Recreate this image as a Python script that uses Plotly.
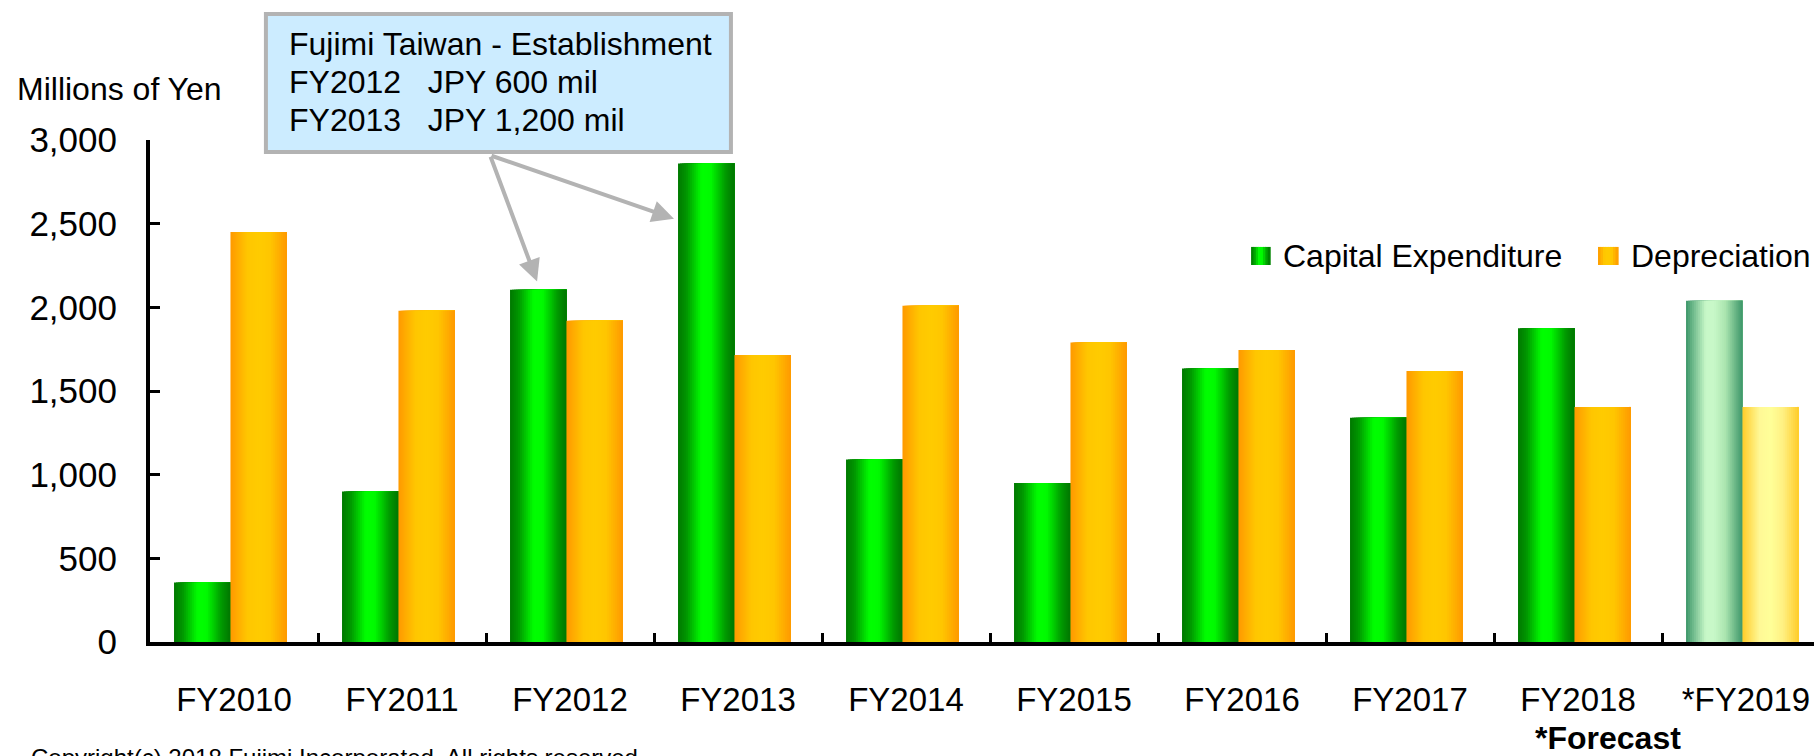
import plotly.graph_objects as go

# ---- data -------------------------------------------------------------
categories = ["FY2010", "FY2011", "FY2012", "FY2013", "FY2014",
              "FY2015", "FY2016", "FY2017", "FY2018", "*FY2019"]
capital_expenditure = [355, 900, 2105, 2860, 1090, 950, 1635, 1340, 1875, 2040]
depreciation = [2450, 1980, 1920, 1715, 2010, 1790, 1745, 1620, 1405, 1405]
is_forecast = [False] * 9 + [True]
y_ticks = [0, 500, 1000, 1500, 2000, 2500, 3000]

# ---- styling ----------------------------------------------------------
FONT = "Liberation Sans, Arial, sans-serif"
# horizontal colour ramps (fraction across bar -> rgb)
GREEN = [(0.0, (0, 120, 0)), (0.15, (0, 150, 0)), (0.42, (0, 255, 0)),
         (0.58, (0, 250, 0)), (0.85, (0, 150, 0)), (1.0, (0, 118, 0))]
ORANGE = [(0.0, (255, 153, 0)), (0.3, (255, 198, 0)), (0.5, (255, 204, 0)),
          (0.7, (255, 198, 0)), (1.0, (255, 153, 0))]
GREEN_FC = [(0.0, (60, 150, 105)), (0.35, (200, 248, 200)), (0.5, (200, 248, 200)),
            (0.7, (170, 228, 175)), (1.0, (60, 150, 105))]
YELLOW_FC = [(0.0, (255, 204, 40)), (0.3, (255, 248, 150)), (0.5, (255, 255, 153)),
             (0.72, (255, 240, 130)), (1.0, (255, 204, 40))]


def ramp(stops, t):
    for (t0, c0), (t1, c1) in zip(stops[:-1], stops[1:]):
        if t0 <= t <= t1:
            f = 0 if t1 == t0 else (t - t0) / (t1 - t0)
            rgb = [round(a + (b - a) * f) for a, b in zip(c0, c1)]
            return "rgb({},{},{})".format(*rgb)
    return "rgb({},{},{})".format(*stops[-1][1])


STRIPS = 28
BAR_W = 0.336
GROUP_START = -0.357

fig = go.Figure()

series = [
    ("Capital Expenditure", capital_expenditure, GREEN, GREEN_FC),
    ("Depreciation", depreciation, ORANGE, YELLOW_FC),
]
for s_idx, (name, values, stops, fc_stops) in enumerate(series):
    base = GROUP_START + s_idx * BAR_W
    step = BAR_W / STRIPS
    for i in range(STRIPS):
        t = (i + 0.5) / STRIPS
        c_norm = ramp(stops, t)
        c_fc = ramp(fc_stops, t)
        colors = [c_fc if f else c_norm for f in is_forecast]
        # each strip runs to the bar's right edge; later strips paint over
        fig.add_trace(go.Bar(
            x=categories, y=values, name=name,
            offset=base + i * step, width=BAR_W - i * step,
            marker=dict(color=colors, line=dict(width=0)),
            showlegend=False,
            hoverinfo="x+y+name" if i == 0 else "skip",
        ))

# ---- axes --------------------------------------------------------------
fig.update_xaxes(
    type="category", range=[-0.5, -0.5 + 1664 / 168],
    showline=True, linecolor="black", linewidth=4,
    ticks="inside", tickson="boundaries", ticklen=9, tickwidth=3, tickcolor="black",
    tickfont=dict(family=FONT, size=33, color="black"),
    ticklabelstandoff=25, showgrid=False, zeroline=False,
)
fig.update_yaxes(
    range=[0, 3000], tickvals=y_ticks, tickformat=",",
    showline=True, linecolor="black", linewidth=4,
    ticks="inside", ticklen=10, tickwidth=3, tickcolor="black",
    tickfont=dict(family=FONT, size=35, color="black"),
    ticklabelstandoff=22, showgrid=False, zeroline=False,
)

shapes = []
annotations = []

# ---- legend (gradient swatches + labels) ---------------------------------
def swatch(x0, x1, y0, y1, stops, n=8):
    w = (x1 - x0) / n
    for k in range(n):
        shapes.append(dict(type="rect", xref="paper", yref="paper",
                           x0=x0 + k * w, x1=x0 + (k + 1) * w + 0.0004, y0=y0, y1=y1,
                           fillcolor=ramp(stops, (k + 0.5) / n), line=dict(width=0),
                           layer="above"))


swatch(0.6617, 0.6731, 0.751, 0.787, GREEN)
swatch(0.8702, 0.8822, 0.751, 0.787, ORANGE)
annotations.append(dict(text="Capital Expenditure", xref="paper", yref="paper",
                        x=0.6797, y=0.769, xanchor="left", yanchor="middle",
                        showarrow=False, font=dict(family=FONT, size=32, color="black")))
annotations.append(dict(text="Depreciation", xref="paper", yref="paper",
                        x=0.8888, y=0.769, xanchor="left", yanchor="middle",
                        showarrow=False, font=dict(family=FONT, size=32, color="black")))

# ---- callout box ----------------------------------------------------------
shapes.append(dict(type="rect", xref="x", yref="paper",
                   x0=0.19, x1=2.958, y0=0.976, y1=1.251,
                   fillcolor="#CCECFF", line=dict(color="#B3B3B3", width=4),
                   layer="above"))
nb = "\u00a0"
callout_lines = [
    "Fujimi Taiwan - Establishment",
    "FY2012" + nb * 3 + "JPY 600 mil",
    "FY2013" + nb * 3 + "JPY 1,200 mil",
]
for line, yy in zip(callout_lines, [1.191, 1.1155, 1.040]):
    annotations.append(dict(text=line, xref="x", yref="paper", x=0.315, y=yy,
                            xanchor="left", yanchor="middle", showarrow=False,
                            font=dict(family=FONT, size=32, color="black")))

# arrows from the callout to the FY2012 and FY2013 capex bars
for tip_x, tip_y in [(1.804, 2155), (2.619, 2529)]:
    annotations.append(dict(x=tip_x, y=tip_y, ax=1.524, ay=2909,
                            xref="x", yref="y", axref="x", ayref="y",
                            text="", showarrow=True, arrowhead=2, arrowsize=1.1,
                            arrowwidth=4, arrowcolor="#B3B3B3"))

# ---- other text ------------------------------------------------------------
annotations.append(dict(text="Millions of Yen", xref="paper", yref="paper",
                        x=-0.0811, y=1.1016, xanchor="left", yanchor="middle",
                        showarrow=False, font=dict(family=FONT, size=32, color="black")))
annotations.append(dict(text="<b>*Forecast</b>", xref="paper", yref="paper",
                        x=0.876, y=-0.192, xanchor="center", yanchor="middle",
                        showarrow=False, font=dict(family=FONT, size=32, color="black")))
annotations.append(dict(text="Copyright(c) 2018 Fujimi Incorporated. All rights reserved.",
                        xref="paper", yref="paper", x=-0.0727, y=-0.199,
                        xanchor="left", yanchor="top", showarrow=False,
                        font=dict(family=FONT, size=24, color="black")))

fig.update_layout(
    width=1814, height=756,
    margin=dict(l=150, r=0, t=140, b=114),
    paper_bgcolor="white", plot_bgcolor="white",
    barmode="overlay", showlegend=False,
    shapes=shapes, annotations=annotations,
    font=dict(family=FONT, color="black"),
)

fig.write_html("out.html")
